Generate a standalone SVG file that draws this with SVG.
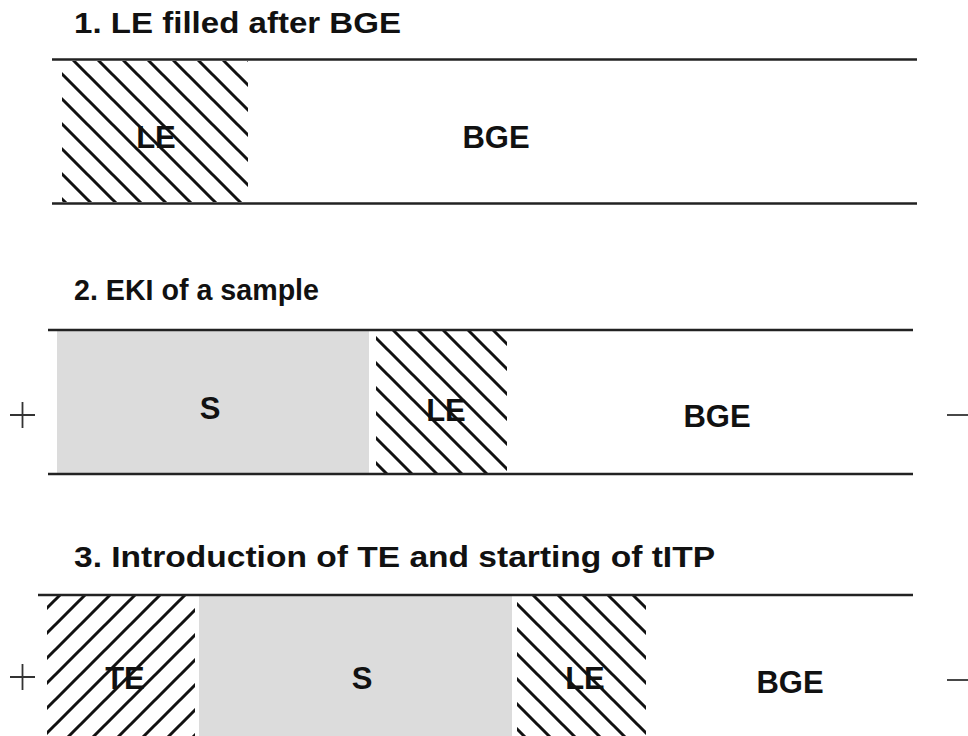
<svg xmlns="http://www.w3.org/2000/svg" width="968" height="736" viewBox="0 0 968 736">
<style>
text{font-family:"Liberation Sans",Arial,sans-serif;font-weight:bold;fill:#111}
.title{font-size:29px}
.lbl{font-size:31px;text-anchor:middle}
.rule{stroke:#222;stroke-width:2.5;fill:none}
.sign{stroke:#333;stroke-width:1.8;fill:none}
.gray{fill:#dcdcdc}
</style>
<defs>
<pattern id="back" patternUnits="userSpaceOnUse" x="13" y="0" width="25" height="25">
<path d="M-5,-5 L30,30 M-5,20 L5,30 M20,-5 L30,5" stroke="#111" stroke-width="3"/>
</pattern>
<pattern id="fwd" patternUnits="userSpaceOnUse" x="5" y="0" width="25" height="25">
<path d="M-5,30 L30,-5 M-5,5 L5,-5 M20,30 L30,20" stroke="#111" stroke-width="3"/>
</pattern>
</defs>
<rect width="968" height="736" fill="#fff"/>

<g id="panel1">
<text class="title" x="74" y="33" textLength="327" lengthAdjust="spacingAndGlyphs">1. LE filled after BGE</text>
<g id="p1-le"><rect x="62" y="61" width="186" height="141" fill="url(#back)"/><text class="lbl" x="156" y="148">LE</text></g>
<g id="p1-bge"><text class="lbl" x="496" y="148">BGE</text></g>
<line class="rule" x1="52" y1="59.5" x2="917" y2="59.5"/>
<line class="rule" x1="52" y1="203.5" x2="917" y2="203.5"/>
</g>

<g id="panel2">
<text class="title" x="74" y="300" textLength="245" lengthAdjust="spacingAndGlyphs">2. EKI of a sample</text>
<g id="p2-s"><rect class="gray" x="57" y="331" width="312" height="142"/><text class="lbl" x="210" y="419">S</text></g>
<g id="p2-le"><rect x="376" y="331" width="131" height="142" fill="url(#back)"/><text class="lbl" x="446" y="421">LE</text></g>
<g id="p2-bge"><text class="lbl" x="717" y="427">BGE</text></g>
<line class="rule" x1="48" y1="330" x2="913" y2="330"/>
<line class="rule" x1="48" y1="474" x2="913" y2="474"/>
<g id="p2-plus"><path class="sign" d="M10,415 H35 M22.5,402 V428"/></g>
<g id="p2-minus"><path class="sign" d="M947,415 H968"/></g>
</g>

<g id="panel3">
<text class="title" x="74" y="567" font-size="31" textLength="641" lengthAdjust="spacingAndGlyphs">3. Introduction of TE and starting of tITP</text>
<g id="p3-te"><rect x="47" y="596" width="148" height="140" fill="url(#fwd)"/><text class="lbl" x="125" y="689">TE</text></g>
<g id="p3-s"><rect class="gray" x="199" y="596" width="313" height="140"/><text class="lbl" x="362" y="689">S</text></g>
<g id="p3-le"><rect x="517" y="596" width="129" height="140" fill="url(#back)"/><text class="lbl" x="585" y="689">LE</text></g>
<g id="p3-bge"><text class="lbl" x="790" y="693">BGE</text></g>
<line class="rule" x1="38" y1="595" x2="913" y2="595"/>
<g id="p3-plus"><path class="sign" d="M10,677 H35 M22.5,664 V690"/></g>
<g id="p3-minus"><path class="sign" d="M947,680 H968"/></g>
</g>
<g id="connectors"/>
</svg>
